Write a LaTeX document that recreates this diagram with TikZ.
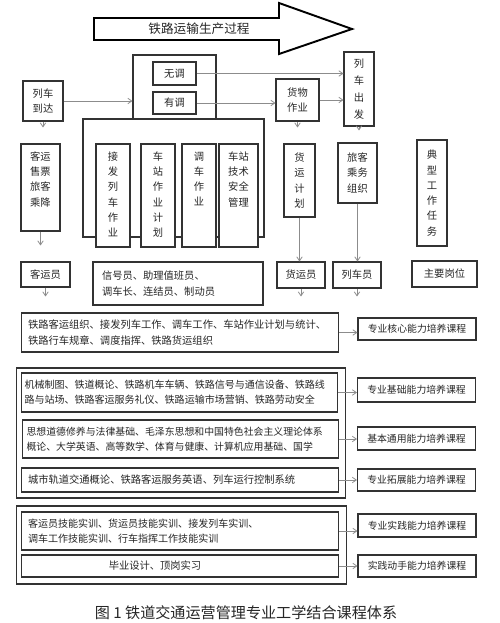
\documentclass[tikz,border=0pt]{standalone}
\usepackage{fontspec}
\setmainfont{Noto Sans CJK SC}
\usetikzlibrary{arrows.meta}

\begin{document}
\begin{tikzpicture}[x=0.02cm,y=-0.02cm,
  every node/.style={font=\fontsize{5.85}{8.7}\selectfont,text=black!85},
  blk/.style={draw=black!80,line width=0.6pt,fill=white,inner sep=0.5mm,align=center},
  grp/.style={draw=black!80,line width=0.6pt,inner sep=0pt},
  toptxt/.style={align=center,anchor=north,yshift=-0.4mm},
  crs/.style={blk,align=left,inner xsep=1.4mm,text width=60.8mm},
  tag/.style={blk,minimum width=23.6mm,minimum height=4.6mm,font=\fontsize{5.6}{7}\selectfont},
  flow/.style={draw=black!45,line width=0.45pt,-{Straight Barb[length=0.8mm,width=1.1mm]}},
  stub/.style={flow,shorten >=3.2mm}]
  \fill[white] (0,0) rectangle (500,623);
  \useasboundingbox (0,0) rectangle (500,623);

  % process arrow
  \draw[line width=1.1pt,fill=white] (94,18) -- (279,18) -- (279,3) -- (352,29) -- (279,54) -- (279,40) -- (94,40) -- cycle;
  \node[font=\fontsize{7.2}{8}\selectfont] (gc) at (199,29) {铁路运输生产过程};

  % top row
  \node[blk,minimum width=8mm,minimum height=8mm] (dd) at (43,101) {列车\\到达};
  \node[grp,minimum width=16.6mm,minimum height=12.8mm] (tdq) at (174.5,87) {};
  \node[blk,minimum width=8.6mm,minimum height=4.6mm] (wt) at (174.5,73.5) {无调};
  \node[blk,minimum width=8.6mm,minimum height=4.4mm] (yt) at (174.5,103) {有调};
  \node[blk,minimum width=8.6mm,minimum height=8.4mm] (hw) at (297.5,100) {货物\\作业};
  \node[blk,minimum width=6mm,minimum height=14.8mm,font=\fontsize{5.85}{9.6}\selectfont] (cf) at (359,89) {列\\车\\出\\发};

  % tasks
  \node[grp,minimum width=36.2mm,minimum height=23.6mm] (zq) at (173.5,178) {};
  \node[blk,minimum width=6.8mm,minimum height=20.6mm,label={[toptxt]north:接\\发\\列\\车\\作\\业}] (jf) at (113,195.5) {};
  \node[blk,minimum width=6.8mm,minimum height=20.6mm,label={[toptxt]north:车\\站\\作\\业\\计\\划}] (zy) at (158,195.5) {};
  \node[blk,minimum width=6.8mm,minimum height=20.6mm,label={[toptxt]north:调\\车\\作\\业}] (dc) at (199,195.5) {};
  \node[blk,minimum width=7.8mm,minimum height=20.6mm,label={[toptxt]north:车站\\技术\\安全\\管理}] (js) at (238.5,195.5) {};
  \node[blk,minimum width=7.8mm,minimum height=17.4mm,label={[toptxt]north:客运\\售票\\旅客\\乘降}] (kp) at (40.5,187.5) {};
  \node[blk,minimum width=6.2mm,minimum height=14.6mm] (hj) at (299.5,180.5) {货\\运\\计\\划};
  \node[blk,minimum width=7.8mm,minimum height=12mm] (lz) at (357.5,173) {旅客\\乘务\\组织};
  \node[blk,minimum width=6mm,minimum height=21.2mm] (dx) at (432,193) {典\\型\\工\\作\\任\\务};

  % posts
  \node[blk,minimum width=9.8mm,minimum height=5mm] (ky) at (45.5,274.5) {客运员};
  \node[blk,minimum width=34mm,minimum height=8.6mm,align=left,text width=30.4mm,inner xsep=1.8mm] (xh) at (178,283.5) {信号员、助理值班员、\\调车长、连结员、制动员};
  \node[blk,minimum width=9.6mm,minimum height=5.2mm] (hy) at (301,275) {货运员};
  \node[blk,minimum width=9.6mm,minimum height=5.2mm] (lc) at (357,275) {列车员};
  \node[blk,minimum width=13mm,minimum height=5.2mm] (gw) at (444.5,274) {主要岗位};

  \draw[flow] (dd.east) -- (dd.east -| tdq.west);
  \draw[flow] (wt.east) -- (wt.east -| cf.west);
  \draw[flow] (yt.east) -- (yt.east -| hw.west);
  \draw[flow] (hw.east) -- (hw.east -| cf.west);
  \draw[stub] (dd.south) -- (dd.south |- kp.north);
  \draw[stub] (kp.south) -- (kp.south |- ky.north);
  \draw[stub] (hw.south) -- (hw.south |- hj.north);
  \draw[stub,shorten >=2.4mm] (cf.south) -- (cf.south |- lz.north);
  \draw[flow] (hj.south) -- (hj.south |- hy.north);
  \draw[flow] (lz.south) -- (lz.south |- lc.north);

  % courses
  \node[crs,minimum height=7.8mm] (hx) at (180,332.5) {铁路客运组织、接发列车工作、调车工作、车站作业计划与统计、\\铁路行车规章、调度指挥、铁路货运组织};
  \node[tag,minimum height=4.4mm] (hxk) at (417,329) {专业核心能力培养课程};
  \draw[stub] (ky.south) -- (ky.south |- hx.north);
  \draw[stub] (hy.south) -- (hy.south |- hx.north);
  \draw[stub] (lc.south) -- (lc.south |- hx.north);

  \node[grp,minimum width=66mm,minimum height=26mm] (jcq) at (181,433) {};
  \node[crs,minimum height=7.8mm,text width=62mm,inner xsep=0.7mm,font=\fontsize{5.7}{8.5}\selectfont] (jc) at (179.5,392.5) {机械制图、铁道概论、铁路机车车辆、铁路信号与通信设备、铁路线\\路与站场、铁路客运服务礼仪、铁路运输市场营销、铁路劳动安全};
  \node[tag,minimum height=4.8mm] (jck) at (416.5,390) {专业基础能力培养课程};
  \node[crs,minimum height=7.6mm,text width=61.6mm,inner xsep=0.9mm,font=\fontsize{5.62}{8.5}\selectfont] (ty) at (180.5,439) {思想道德修养与法律基础、毛泽东思想和中国特色社会主义理论体系\\概论、大学英语、高等数学、体育与健康、计算机应用基础、国学};
  \node[tag,minimum height=4.6mm] (tyk) at (416.5,438.5) {基本通用能力培养课程};
  \node[crs,minimum height=4.8mm] (tz) at (180,480) {城市轨道交通概论、铁路客运服务英语、列车运行控制系统};
  \node[tag,minimum height=4.4mm] (tzk) at (416.5,480) {专业拓展能力培养课程};

  \node[grp,minimum width=66.2mm,minimum height=15.6mm] (sjq) at (181.5,545) {};
  \node[crs,minimum height=7.6mm,font=\fontsize{5.7}{8.6}\selectfont] (sj) at (180,531) {客运员技能实训、货运员技能实训、接发列车实训、\\调车工作技能实训、行车指挥工作技能实训};
  \node[tag,minimum height=4.6mm] (sjk) at (417,525.5) {专业实践能力培养课程};
  \node[blk,minimum width=63.6mm,minimum height=4.4mm,label={[xshift=-5mm]center:毕业设计、顶岗实习}] (by) at (180,566) {};
  \node[tag,minimum height=4.4mm] (byk) at (417,566) {实践动手能力培养课程};

  \draw[flow] (hx.east) -- (hx.east -| hxk.west);
  \draw[flow] (jc.east) -- (jc.east -| jck.west);
  \draw[flow] (ty.east) -- (ty.east -| tyk.west);
  \draw[flow] (tz.east) -- (tz.east -| tzk.west);
  \draw[flow] (sj.east) -- (sj.east -| sjk.west);
  \draw[flow] (by.east) -- (by.east -| byk.west);

  \node[font=\fontsize{8.6}{10}\selectfont] (tt) at (246,613) {图 1 铁道交通运营管理专业工学结合课程体系};
\end{tikzpicture}
\end{document}
